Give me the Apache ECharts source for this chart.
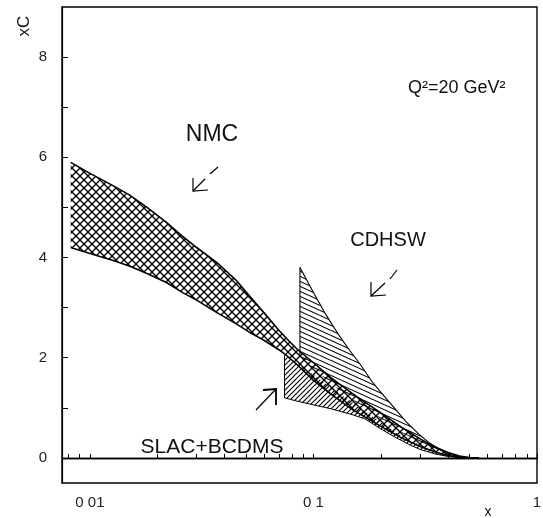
<!DOCTYPE html>
<html><head><meta charset="utf-8">
<script src="https://cdn.jsdelivr.net/npm/echarts@6/dist/echarts.min.js"></script>
<style>html,body{margin:0;padding:0;background:#fff}#c{width:543px;height:518px}</style>
</head><body><div id="c"></div>
<script>
// ---- data ----
const nmcX      = [0.0082,0.01,0.0125,0.015,0.018,0.022,0.026,0.03,0.037,0.045,0.052,0.06,0.07,0.076,0.085,0.1,0.12,0.15,0.2,0.25,0.3,0.35,0.4,0.45,0.5,0.55];
const nmcUpper  = [5.9,5.68,5.45,5.25,5.0,4.7,4.42,4.2,3.9,3.55,3.22,2.9,2.55,2.38,2.16,1.9,1.6,1.28,0.9,0.6,0.38,0.22,0.11,0.04,0.01,0];
const nmcLower  = [4.2,4.08,3.95,3.83,3.68,3.5,3.3,3.15,2.9,2.68,2.5,2.35,2.16,2.04,1.85,1.55,1.27,0.96,0.63,0.39,0.23,0.12,0.05,0.015,0,0];

const cdhswUpX  = [0.087,0.1,0.114,0.13,0.145,0.16,0.183,0.203,0.235,0.26,0.297,0.33,0.39,0.45,0.5];
const cdhswUp   = [3.8,3.3,2.85,2.45,2.15,1.9,1.52,1.28,0.95,0.72,0.47,0.3,0.1,0.02,0];
const cdhswLoX  = [0.087,0.1,0.12,0.15,0.2,0.25,0.3,0.35,0.4,0.45,0.5];
const cdhswLo   = [2.05,1.78,1.48,1.15,0.78,0.5,0.31,0.17,0.08,0.025,0];

const slacX     = [0.0742,0.085,0.1,0.12,0.15,0.17,0.2,0.235,0.27,0.3,0.35,0.4,0.46,0.5];
const slacUpper = [2.05,1.88,1.66,1.4,1.1,0.93,0.72,0.5,0.35,0.26,0.14,0.06,0.01,0];
const slacLower = [1.2,1.13,1.06,0.98,0.86,0.78,0.58,0.4,0.26,0.17,0.08,0.03,0,0];

const xTickValues  = [0.008,0.009,0.01,0.02,0.03,0.04,0.05,0.06,0.07,0.08,0.09,0.1,0.2,0.3,0.4,0.5,0.6,0.7,0.8,0.9,1];
const xLabelValues = [0.01,0.1,1];
const xLabelTexts  = ['0 01','0 1','1'];
const yTickValues  = [0,1,2,3,4,5,6,7,8];
const yLabelValues = [0,2,4,6,8];

// ---- hatch patterns ----
function makePattern(w, h, lw, lines) {
  const c = document.createElement('canvas'); c.width = w; c.height = h;
  const ctx = c.getContext('2d'); ctx.strokeStyle = '#000'; ctx.lineWidth = lw;
  lines(ctx, w, h);
  return { image: c, repeat: 'repeat' };
}
const crossHatch = makePattern(8, 8, 1.3, (ctx, w, h) => {
  for (const d of [-w, 0, w]) {
    ctx.beginPath(); ctx.moveTo(d - 2, -2); ctx.lineTo(d + w + 2, h + 2); ctx.stroke();
    ctx.beginPath(); ctx.moveTo(d + w + 2, -2); ctx.lineTo(d - 2, h + 2); ctx.stroke();
  }
});
const backHatch = makePattern(11, 5, 1.1, (ctx, w, h) => {
  for (const d of [-h, 0, h]) {
    ctx.beginPath(); ctx.moveTo(-w, d - h); ctx.lineTo(2 * w, d + 2 * h); ctx.stroke();
  }
});
const fwdHatch = makePattern(5, 5, 1.1, (ctx, w, h) => {
  for (const d of [-w, 0, w]) {
    ctx.beginPath(); ctx.moveTo(d - 2, h + 2); ctx.lineTo(d + w + 2, -2); ctx.stroke();
  }
});

function band(name, xu, yu, xl, yl, fill, opt) {
  return {
    type: 'custom', name, coordinateSystem: 'cartesian2d', silent: true, clip: true,
    data: [[xu[0], yu[0]]],
    renderItem: (params, api) => {
      const up = xu.map((x, i) => api.coord([x, yu[i]]));
      const lo = xl.map((x, i) => api.coord([x, yl[i]]));
      const children = [{ type: 'polygon', shape: { points: up.concat(lo.slice().reverse()) }, style: { fill: fill, stroke: null } }];
      if (opt.upper) children.push({ type: 'polyline', shape: { points: up }, style: { stroke: '#000', lineWidth: opt.upper, fill: null } });
      if (opt.lower) children.push({ type: 'polyline', shape: { points: lo }, style: { stroke: '#000', lineWidth: opt.lower, fill: null } });
      if (opt.left) children.push({ type: 'line', shape: { x1: up[0][0], y1: up[0][1], x2: lo[0][0], y2: lo[0][1] }, style: { stroke: '#000', lineWidth: opt.left } });
      return { type: 'group', children };
    }
  };
}

const chart = echarts.init(document.getElementById('c'), null, { renderer: 'canvas' });
const font = "'Liberation Sans', Arial, sans-serif";
const txt = (x, y, text, size, extra) => Object.assign({ type: 'text', x, y, style: { text, font: size + 'px ' + font, fill: '#111', align: 'center', verticalAlign: 'middle' } }, extra || {});
const pl = (pts, w) => ({ type: 'polyline', shape: { points: pts }, style: { stroke: '#000', lineWidth: w || 1.2, fill: null } });

chart.setOption({
  animation: false,
  backgroundColor: '#fff',
  grid: { left: 62, right: 6, top: 7, bottom: 35, show: true, borderColor: '#000', borderWidth: 1.4, outerBoundsMode: 'none' },
  xAxis: {
    type: 'log', logBase: 10, min: 0.0075, max: 1,
    axisLine: { show: true, lineStyle: { color: '#000', width: 1.4 } },
    axisTick: { show: true, inside: true, length: 4, customValues: xTickValues, lineStyle: { color: '#000' } },
    axisLabel: { customValues: xLabelValues, margin: 12, fontSize: 15, fontFamily: font, color: '#222',
      formatter: v => { const i = xLabelValues.findIndex(t => Math.abs(t - v) < 1e-6 * t); return i >= 0 ? xLabelTexts[i] : ''; } },
    splitLine: { show: false }, minorTick: { show: false }
  },
  yAxis: {
    type: 'value', min: -0.5, max: 9,
    axisLine: { show: true, lineStyle: { color: '#000', width: 1.2 } },
    axisTick: { show: true, inside: true, length: 6, customValues: yTickValues, lineStyle: { color: '#000' } },
    axisLabel: { customValues: yLabelValues, margin: 15, fontSize: 15, fontFamily: font, color: '#222' },
    splitLine: { show: false }
  },
  series: [
    band('SLAC+BCDMS', slacX, slacUpper, slacX, slacLower, fwdHatch, { lower: 1, left: 1 }),
    band('CDHSW', cdhswUpX, cdhswUp, cdhswLoX, cdhswLo, backHatch, { upper: 1.1, left: 1.1 }),
    band('NMC', nmcX, nmcUpper, nmcX, nmcLower, crossHatch, { upper: 1.6, lower: 1.6 }),
    { type: 'line', data: [], markLine: { silent: true, symbol: 'none', label: { show: false }, lineStyle: { color: '#000', type: 'solid', width: 1.3 }, data: [{ yAxis: 0 }] } }
  ],
  graphic: [
    txt(24, 26, 'xC', 17, { rotation: Math.PI / 2 }),
    txt(488, 512, 'x', 14),
    txt(212, 135, 'NMC', 23),
    txt(388, 240, 'CDHSW', 20),
    { type: 'text', x: 408, y: 88, style: { text: 'Q²=20 GeV²', font: '18px ' + font, fill: '#111', align: 'left', verticalAlign: 'middle' } },
    txt(212, 447, 'SLAC+BCDMS', 21),
    // NMC arrow
    pl([[193, 178], [193, 191], [208, 190]]), pl([[193, 191], [205, 179]]), pl([[210, 174], [218, 167]]),
    // CDHSW arrow
    pl([[371, 282], [371, 296], [386, 295]]), pl([[371, 296], [385, 283]]), pl([[390, 279], [397, 270]]),
    // SLAC arrow
    pl([[263, 390], [276, 389], [276, 405]], 1.8), pl([[256, 410], [276, 389]])
  ]
});
</script></body></html>
